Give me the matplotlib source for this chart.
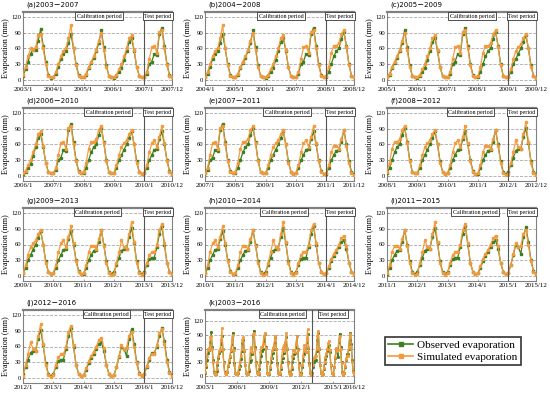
import numpy as np
import matplotlib.pyplot as plt
from matplotlib.lines import Line2D

# monthly evaporation (mm), Jan..Dec, 2003-2016
years = list(range(2003, 2017))
observed = [
    [8, 20, 35, 50, 58, 58, 75, 97, 65, 35, 10, 4],    # 2003
    [5, 12, 25, 40, 50, 55, 70, 88, 60, 30, 10, 5],    # 2004
    [5, 10, 22, 32, 42, 55, 70, 95, 62, 28, 8, 5],     # 2005
    [4, 8, 15, 22, 38, 55, 72, 80, 55, 25, 8, 5],      # 2006
    [5, 12, 30, 35, 50, 48, 88, 100, 65, 30, 10, 5],   # 2007
    [5, 15, 30, 45, 55, 60, 78, 92, 65, 30, 8, 5],     # 2008
    [5, 15, 30, 40, 50, 60, 72, 85, 60, 28, 8, 4],     # 2009
    [5, 15, 30, 40, 50, 52, 70, 85, 60, 30, 10, 3],    # 2010
    [4, 15, 30, 40, 48, 50, 65, 88, 60, 28, 8, 3],     # 2011
    [8, 20, 35, 48, 52, 52, 75, 92, 62, 28, 8, 3],     # 2012
    [8, 20, 32, 35, 35, 55, 80, 95, 60, 25, 8, 3],     # 2013
    [5, 15, 28, 38, 45, 55, 65, 68, 52, 25, 8, 3],     # 2014
    [5, 20, 40, 60, 55, 42, 75, 93, 65, 30, 10, 3],    # 2015
    [8, 20, 35, 48, 48, 60, 80, 95, 70, 35, 12, 5],    # 2016
]
simulated = [
    [10, 25, 45, 60, 58, 62, 85, 88, 60, 30, 8, 5],    # 2003
    [5, 15, 30, 45, 55, 60, 80, 105, 60, 28, 8, 5],    # 2004
    [5, 12, 25, 35, 45, 58, 75, 90, 58, 25, 8, 5],     # 2005
    [5, 10, 20, 30, 45, 60, 80, 85, 58, 25, 8, 5],     # 2006
    [5, 15, 40, 62, 65, 52, 92, 95, 60, 28, 8, 5],     # 2007
    [8, 25, 52, 65, 65, 70, 88, 95, 62, 28, 8, 5],     # 2008
    [6, 20, 40, 55, 62, 68, 80, 88, 60, 25, 8, 4],     # 2009
    [6, 20, 45, 62, 68, 55, 75, 95, 62, 28, 8, 3],     # 2010
    [5, 20, 45, 58, 58, 52, 70, 88, 58, 25, 5, 2],     # 2011
    [3, 25, 45, 68, 55, 52, 80, 103, 65, 25, 6, 2],    # 2012
    [5, 25, 40, 45, 45, 60, 88, 100, 62, 25, 8, 3],    # 2013
    [5, 18, 32, 42, 50, 60, 72, 77, 58, 25, 8, 3],     # 2014
    [5, 20, 42, 62, 55, 58, 80, 88, 60, 28, 8, 3],     # 2015
    [8, 22, 38, 45, 45, 62, 85, 93, 65, 30, 10, 4],    # 2016
]

panel_letters = list("abcdefghijk")
panel_start = [2003, 2004, 2005, 2006, 2007, 2008, 2009, 2010, 2011, 2012, 2003]
panel_end = [2007, 2008, 2009, 2010, 2011, 2012, 2013, 2014, 2015, 2016, 2016]
test_start = [2007, 2008, 2009, 2010, 2011, 2012, 2013, 2014, 2015, 2016, 2013]
# where the "Calibration period" label sits (axes fraction)
cal_pos = [0.51, 0.51, 0.57, 0.57, 0.55, 0.56, 0.50, 0.53, 0.59, 0.56, 0.52]

OBS_C = '#3f7f24'
SIM_C = '#f39a3c'
SERIF = 'Liberation Serif'

W, H = 550, 399
fig = plt.figure(figsize=(W / 100, H / 100), dpi=100)

col_left = [23, 205, 387]
row_top = [12, 108, 208, 310]
aw, ah = 149, 73


def draw_panel(i, ax):
    y0, y1 = panel_start[i], panel_end[i]
    i0, i1 = years.index(y0), years.index(y1)
    obs = np.concatenate(observed[i0:i1 + 1])
    sim = np.concatenate(simulated[i0:i1 + 1])
    x = np.arange(len(obs))
    n = len(obs)
    big = (i == 10)
    ms = 1.1 if big else 1.5
    ax.plot(x, obs, color=OBS_C, lw=0.9, marker='s', ms=ms, zorder=3)
    ax.plot(x, sim, color=SIM_C, lw=0.9, marker='s', ms=ms, zorder=4, alpha=0.95)

    ax.set_xlim(0, n - 1)
    if big:
        ax.set_ylim(-15, 145)
        step = 3
    else:
        ax.set_ylim(-10, 130)
        step = 1
    ax.set_yticks([0, 30, 60, 90, 120])
    ticks = list(range(0, n - 1, 12 * step)) + [n - 1]
    labels = [f"{y0 + t // 12}/1" for t in ticks[:-1]] + [f"{y1}/12"]
    ax.set_xticks(ticks)
    ax.set_xticklabels(labels)
    ax.yaxis.grid(True, ls='--', color='#aaaaaa', lw=0.6)
    ax.set_axisbelow(True)
    for sp in ax.spines.values():
        sp.set_color('#808080')
        sp.set_linewidth(0.8)
    ax.spines['top'].set_linewidth(1.6)
    ax.tick_params(labelsize=5, length=1.5, width=0.5, pad=1.2, direction='in',
                   colors='#808080', labelcolor='black')
    ax.tick_params(axis='y', labelsize=4.8)
    for lab in ax.get_xticklabels() + ax.get_yticklabels():
        lab.set_family(SERIF)
    ax.set_ylabel("Evaporation (mm)", family=SERIF, fontsize=5.9)
    ax.yaxis.set_label_coords(-12.5 / aw, 0.5)

    tx = (test_start[i] - y0) * 12
    ax.axvline(tx, color='#555555', lw=0.8, zorder=5)
    tf = tx / (n - 1)
    box = dict(boxstyle='square,pad=0.25', fc='white', ec='#333333', lw=0.6)
    ax.text(cal_pos[i], 0.975, "Calibration period", transform=ax.transAxes,
            ha='center', va='top', fontsize=4.3, family=SERIF, bbox=box, zorder=6)
    ax.text((tf + 1) / 2, 0.975, "Test period", transform=ax.transAxes,
            ha='center', va='top', fontsize=4.3, family=SERIF, bbox=box, zorder=6)
    ax.text(0.02, 1.05, f"({panel_letters[i]}){y0}\uff0d{y1}", transform=ax.transAxes,
            ha='left', va='bottom', fontsize=5,
            family=['DejaVu Sans', 'Noto Sans CJK SC'])


for i in range(11):
    r, c = divmod(i, 3)
    left = col_left[c]
    top = row_top[r]
    ax = fig.add_axes([left / W, 1 - (top + ah) / H, aw / W, ah / H])
    draw_panel(i, ax)

handles = [
    Line2D([], [], color=OBS_C, lw=1.2, marker='s', ms=3),
    Line2D([], [], color=SIM_C, lw=1.2, marker='s', ms=3),
]
leg = fig.legend(handles, ["Observed evaporation", "Simulated evaporation"],
                 loc='center', bbox_to_anchor=(453 / W, 1 - 351 / H),
                 prop={'family': SERIF, 'size': 8}, frameon=True, fancybox=False,
                 handlelength=2.2, handletextpad=0.4, borderpad=0.3,
                 labelspacing=0.15, edgecolor='black')
leg.get_frame().set_linewidth(1.2)

fig.savefig("out.png", dpi=100)
